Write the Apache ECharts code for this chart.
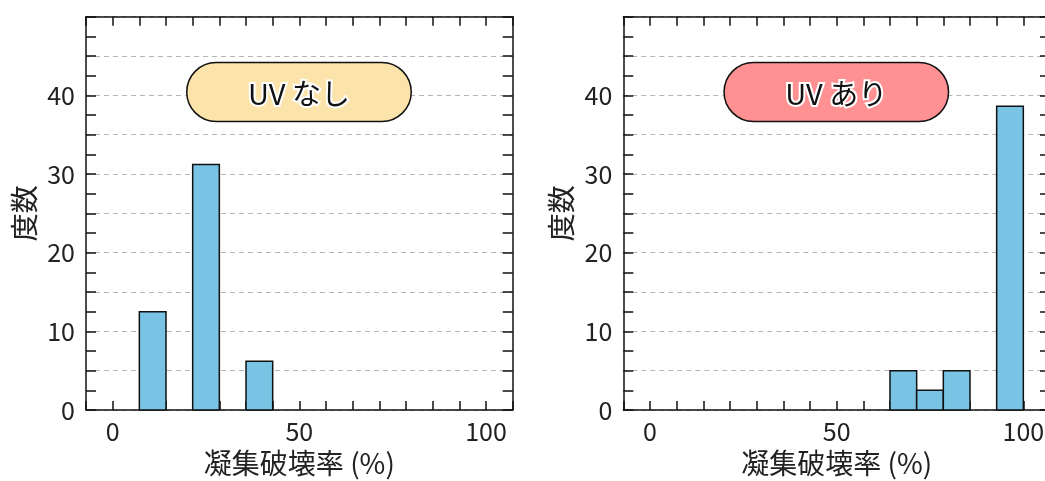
<!DOCTYPE html>
<html>
<head>
<meta charset="utf-8">
<script src="https://cdn.jsdelivr.net/npm/echarts@6/dist/echarts.min.js"></script>
<style>
  html, body { margin: 0; padding: 0; background: #fff; }
  #chart { width: 1045px; height: 481px; }
</style>
</head>
<body>
<div id="chart"></div>
<script>
// Histogram bins are 100/14 % wide
const BIN = 100 / 14;

// UV なし: lower edge of each filled bin and its frequency
const noUvStart = [7.143, 21.429, 35.714];
const noUvCount = [12.5, 31.2, 6.2];

// UV あり
const uvStart = [64.286, 71.429, 78.571, 92.857];
const uvCount = [5, 2.5, 5, 38.6];

const panelTitles = ['UV なし', 'UV あり'];
const xTickLabels = [0, 50, 100];
const yTickLabels = [0, 10, 20, 30, 40];

const FONT = '"Noto Sans CJK JP", "Noto Sans", sans-serif';
const BAR_COLOR = '#79c4e5';
const PILL_COLORS = ['#fbe3a9', '#ff9193'];

const grids = [
  { left: 86, top: 16.7, width: 426.7, height: 393.3, outerBoundsMode: 'none', containLabel: false },
  { left: 623.3, top: 16.7, width: 426.7, height: 393.3, outerBoundsMode: 'none', containLabel: false }
];

function toBins(starts, counts) {
  return starts.map((s, i) => [s, s + BIN, counts[i]]);
}

function renderBin(params, api) {
  const p0 = api.coord([api.value(0), 0]);
  const p1 = api.coord([api.value(1), api.value(2)]);
  return {
    type: 'rect',
    shape: { x: p0[0], y: p1[1], width: p1[0] - p0[0], height: p0[1] - p1[1] },
    style: { fill: BAR_COLOR, stroke: '#111', lineWidth: 1.5 }
  };
}

const axisLine = { show: true, onZero: false, lineStyle: { color: '#111', width: 1.5 } };
const tickStyle = { color: '#111', width: 1.5 };

function xLabel(v) {
  const r = Math.round(v);
  return (Math.abs(v - r) < 1e-3 && xTickLabels.indexOf(r) >= 0) ? String(r) : '';
}
function yLabel(v) {
  const r = Math.round(v);
  return yTickLabels.indexOf(r) >= 0 && Math.abs(v - r) < 1e-6 ? String(r) : '';
}

const xAxes = [];
const yAxes = [];
[0, 1].forEach(g => {
  xAxes.push({
    type: 'value', gridIndex: g, position: 'bottom',
    min: -BIN, max: 100 + BIN, interval: BIN,
    axisLine, axisTick: { inside: true, length: 9, lineStyle: tickStyle },
    axisLabel: { formatter: xLabel, fontSize: 25, fontFamily: FONT, color: '#222', margin: 9, showMinLabel: true, showMaxLabel: true },
    splitLine: { show: false },
    name: '凝集破壊率 (%)', nameLocation: 'middle', nameGap: 39,
    nameTextStyle: { fontSize: 28, fontFamily: FONT, color: '#222' }
  });
  xAxes.push({
    type: 'value', gridIndex: g, position: 'top',
    min: -BIN, max: 100 + BIN, interval: BIN,
    axisLine, axisTick: { inside: true, length: 9, lineStyle: tickStyle },
    axisLabel: { show: false }, splitLine: { show: false }
  });
  yAxes.push({
    type: 'value', gridIndex: g, position: 'left',
    min: 0, max: 50, interval: 5,
    axisLine, axisTick: { inside: true, length: 10, lineStyle: tickStyle },
    minorTick: { show: true, splitNumber: 2, length: 10, lineStyle: tickStyle },
    axisLabel: { formatter: yLabel, fontSize: 25, fontFamily: FONT, color: '#222', margin: 11 },
    splitLine: { show: true, lineStyle: { color: '#b5b5b5', width: 1.2, type: [5, 4] } },
    name: '度数', nameLocation: 'middle', nameGap: 48,
    nameTextStyle: { fontSize: 28, fontFamily: FONT, color: '#222' }
  });
  yAxes.push({
    type: 'value', gridIndex: g, position: 'right',
    min: 0, max: 50, interval: 5,
    axisLine, axisTick: { inside: true, length: 10, lineStyle: tickStyle },
    minorTick: { show: true, splitNumber: 2, length: 10, lineStyle: tickStyle },
    axisLabel: { show: false }, splitLine: { show: false }
  });
});

const chart = echarts.init(document.getElementById('chart'), null, { renderer: 'canvas' });

function pill(g) {
  const cx = grids[g].left + 213.0;
  const cy = 92;
  const w = 224.5, h = 59;
  return {
    type: 'group',
    children: [
      {
        type: 'rect',
        shape: { x: cx - w / 2, y: cy - h / 2, width: w, height: h, r: h / 2 },
        style: { fill: PILL_COLORS[g], stroke: '#111', lineWidth: 1.5 },
        z: 10
      },
      {
        type: 'text',
        x: cx, y: cy + 2,
        style: {
          text: panelTitles[g], font: '29px ' + FONT,
          fill: '#111', stroke: '#fff', lineWidth: 4,
          align: 'center', verticalAlign: 'middle'
        },
        z: 11
      }
    ]
  };
}

chart.setOption({
  animation: false,
  backgroundColor: '#fff',
  grid: grids,
  xAxis: xAxes,
  yAxis: yAxes,
  series: [
    {
      type: 'custom', xAxisIndex: 0, yAxisIndex: 0,
      data: toBins(noUvStart, noUvCount), renderItem: renderBin, z: 3
    },
    {
      type: 'custom', xAxisIndex: 2, yAxisIndex: 2,
      data: toBins(uvStart, uvCount), renderItem: renderBin, z: 3
    }
  ],
  graphic: [pill(0), pill(1)]
});
</script>
</body>
</html>
